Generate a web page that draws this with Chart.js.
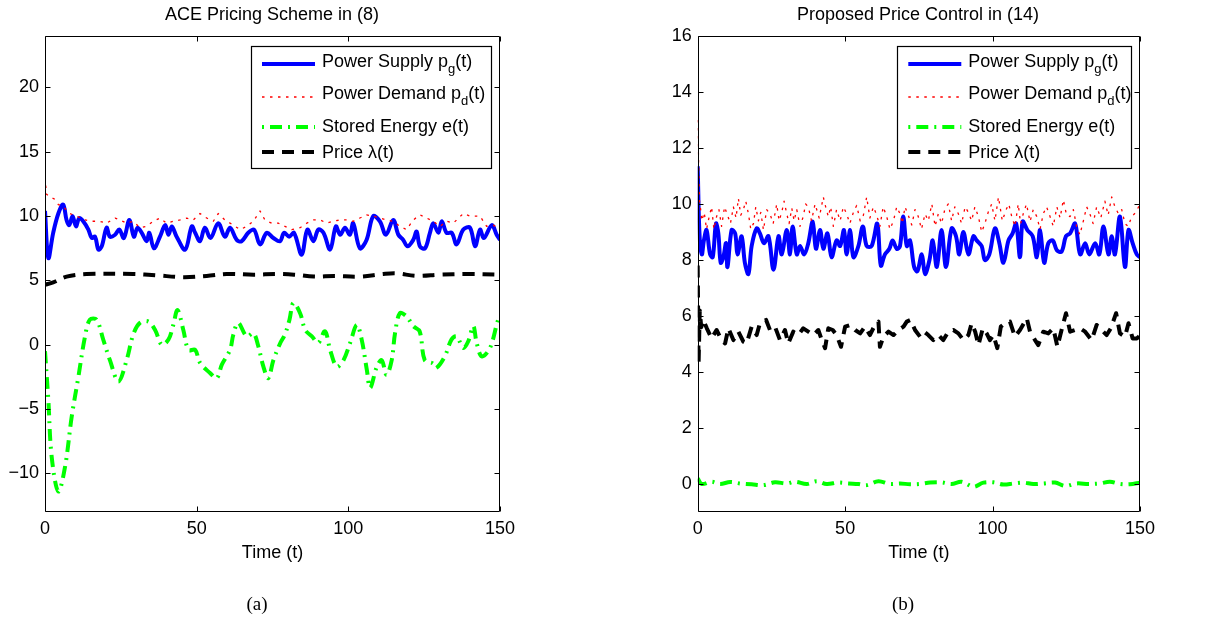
<!DOCTYPE html>
<html><head><meta charset="utf-8">
<script src="https://cdn.jsdelivr.net/npm/chart.js@4.4.1/dist/chart.umd.min.js"></script>
<style>
html,body{margin:0;padding:0;background:#fff;}
#wrap{position:relative;width:1216px;height:618px;overflow:hidden;background:#fff;}
canvas{position:absolute;top:0;}
</style></head><body>
<div id="wrap">
<canvas id="ca" width="608" height="618" style="left:0;width:608px;height:618px"></canvas>
<canvas id="cb" width="608" height="618" style="left:608px;width:608px;height:618px"></canvas>
</div>
<script>
// ---------- tick labels ----------
const xTicks = [0, 50, 100, 150];
const yTicksA = [-10, -5, 0, 5, 10, 15, 20];
const yTicksB = [0, 2, 4, 6, 8, 10, 12, 14, 16];

// ---------- panel (a): ACE Pricing Scheme ----------
const tA_supply = [0,1.1,2.7,4.4,6,7.1,8,9.1,10.2,11.3,12.6,14.3,15.4,16.5,17.6,18.7,20.3,21.4,23.1,24.5,26,27.8,29.3,30.5,31.9,33.5,34.4,35.9,37.9,39.6,40.7,41.8,43.4,46.2,48.4,49.5,51.1,52.7,54.6,57.1,59.3,61,63.2,64.8,67,68.9,70.9,73.1,75.3,77.5,78.8,80.5,82.1,84.6,86.5,88.5,90.1,91.8,94,95.9,97.3,98.9,100.5,101.6,103.8,106,108.2,110.4,112.4,114.8,116.5,118.1,119.5,121.4,122.5,123.6,125.3,126.9,128,129.7,130.8,132.4,134.1,135.7,137.9,140.1,141.8,143.4,144.7,147.3,148.9,150];
const supplyA = [10.4,6.74,8.7,10.2,10.9,9.7,9.3,10.0,9.2,9.85,9.6,8.95,8.3,8.4,7.4,7.65,9.1,8.4,8.55,8.95,8.3,9.7,8.4,9.1,8.7,8.05,8.7,7.5,8.4,9.3,8.55,9.2,8.4,7.4,9.2,8.7,8.05,9.1,8.3,9.45,8.4,9.1,8.15,8.05,8.7,8.95,7.8,8.7,8.3,8.05,8.7,8.4,8.7,7.0,8.95,8.05,8.95,8.7,7.4,9.2,8.55,9.1,8.55,9.45,7.5,8.15,10.0,9.6,8.55,9.7,8.55,8.15,7.65,8.15,8.8,7.65,7.5,8.7,9.45,8.7,9.6,8.7,8.7,7.8,8.95,9.1,7.65,8.95,8.3,9.3,8.55,8.15];

const tA_demand = [0,0.5,1.6,3.3,4.4,6,8.2,10.4,13.2,15.4,18,20.3,23.1,24.7,26.9,29.1,31.3,33.5,35.7,37.9,40.1,42.3,44.5,46.7,48.9,51.1,53.3,55.5,57.1,59.3,62.1,64.3,66.5,68.7,70.9,72.5,74.7,76.9,79.1,81.3,84.1,86.3,88.5,90.7,92.9,95,97.3,99.5,101.6,103.8,106,108.2,110.4,112.6,114.8,117,119.2,121.4,123.6,125.8,128,130.2,132.4,134.6,137.9,140.1,143.4,145.6,147.8,150];
const demandA = [13.0,11.7,11.5,11.3,10.9,10.75,10.2,10.0,9.7,9.6,9.6,9.45,9.85,9.7,9.45,9.6,9.1,9.2,9.6,9.85,9.45,9.6,9.7,9.85,9.7,10.2,9.85,9.6,10.2,9.7,9.3,8.95,9.2,9.6,10.4,9.7,9.45,9.45,9.2,8.95,9.1,9.45,9.7,9.7,9.45,9.6,9.7,9.7,9.6,9.85,10.1,10.0,9.85,9.7,9.6,9.2,8.95,9.7,10.1,9.85,9.6,9.2,9.6,9.45,10.2,10.0,10.0,9.2,9.3,8.95];

const tA_energy = [0,1.1,2.2,4.4,6.6,8.8,11,13.2,14.8,17,19.2,21.4,24.2,26.9,29.1,31.3,34.1,36.3,38.5,40.7,42.3,43.7,45.6,47.3,49.5,51.1,54.4,56.6,58.3,61,62.1,63.7,66.5,68.7,70.3,72,73.6,75.3,77.5,79.1,80.6,81.9,84.1,85.8,88,90.1,92.3,94,96.2,98.4,100.6,102.8,104.4,106.1,107.2,109.4,111,112.6,114.3,115.4,117,119.2,121.4,123.5,125.2,127.9,129,131.8,134,135.7,137.9,139.5,141.2,142.3,144,146.7,149.4,150];
const energyA = [-0.5,-4.3,-8.7,-11.4,-9.5,-5.6,-2.5,0.65,1.95,1.95,0.4,-1.2,-2.85,-1.2,0.8,1.7,1.8,1.15,0,0.4,1.55,2.7,1.15,-0.4,-0.4,-1.4,-2.2,-2.6,-1.55,-0.4,0.8,1.7,0.65,0.9,-0.1,-1.7,-2.6,-1.2,0.1,0.8,1.95,3.25,2.45,1.15,0.65,0.15,1.05,-0.4,-1.7,-1.2,0.15,1.55,0.4,-1.95,-3.35,-1.7,-1.2,-2.35,-1.2,0.9,2.45,2.2,1.45,1.05,-1.2,-1.45,-1.8,-0.9,0.4,0.65,-0.25,0.25,1.45,0.15,-0.9,-0.25,1.95,2.0];

const tA_price = [0,2.7,7.1,13.7,29,36.7,45.6,53.3,59.9,68.7,76.4,82.1,88.7,95.3,103.8,111.5,115.9,122.5,130.2,139,150];
const priceA = [4.67,4.85,5.3,5.5,5.5,5.4,5.25,5.35,5.5,5.45,5.5,5.45,5.3,5.35,5.3,5.5,5.55,5.35,5.45,5.5,5.45];

// ---------- panel (b): Proposed Price Control ----------
const tB_supply = [0,0.6,1.4,2.1,3,4.2,5.1,6.2,7,7.8,8.7,9.6,10.1,11.5,12.7,13.5,14.9,16,17.2,18.3,20,21.1,22.5,24,25.7,27.4,28.5,30.2,31.3,32.2,33.6,34.7,36.1,37.5,39,40.1,41.5,42.6,44,45.4,47.1,48.3,49.6,50.5,51.7,52.8,54.5,56,57.3,59,60.9,62.1,63.5,65,66.1,67.5,68.6,69.7,70.9,72,73.4,74.5,76,77.1,78.6,79.7,81.1,82.7,84.2,86.1,87.6,88.7,90.1,91.8,93.5,94.6,96.3,97.4,98.9,100.8,102.3,103.7,105.4,106.8,108,109.3,110.2,111.8,113.6,115,116.1,117.5,118.9,120.4,121.8,123.4,124.9,126.3,128,129.7,131.4,132.8,134.8,136.2,137.6,139.3,140.4,141.5,143.2,144.9,146.1,147.5,148.9,150];
const supplyB = [11.35,8.95,8.2,8.7,9.07,8.2,8.1,9.3,8.95,7.9,8.1,8.6,7.75,9.07,8.95,8.2,8.85,7.9,7.5,8.5,9.13,8.95,8.6,8.85,7.65,8.85,8.2,9.07,8.2,9.2,8.2,8.5,8.2,8.6,9.37,8.4,9.07,8.4,8.95,8.1,8.7,8.5,9.07,8.2,9.07,8.1,8.5,9.2,8.5,8.5,9.3,7.8,8.2,8.4,8.7,8.4,8.5,9.55,8.5,8.7,7.75,7.6,8.2,7.5,8.0,8.7,7.75,9.07,7.75,9.13,8.85,8.2,9.0,8.2,8.85,8.7,8.5,8.0,8.2,9.13,8.6,7.9,8.7,8.95,9.3,8.1,9.37,9.07,8.85,8.1,9.07,7.9,8.6,8.7,8.35,8.3,8.85,8.95,9.3,8.2,8.6,8.2,8.6,8.2,9.2,8.2,8.85,8.2,9.55,7.75,9.07,8.6,8.2,8.1];

const tB_demand = [0,0.3,0.6,1.0,1.4,2.2,3,3.8,4.7,5.5,6.4,7.2,8.1,9.1,10.1,11.1,12.1,13,13.8,14.6,15.5,16.3,17.2,18,18.9,19.7,20.6,21.4,22.3,23.4,24.5,25.6,26.8,27.6,28.5,29.3,30.2,31,31.9,32.7,33.6,34.7,35.8,36.6,37.5,38.6,39.8,41.2,42.6,43.4,44.3,45.1,46,47.1,48.3,49.4,50.5,51.6,52.8,53.9,55.1,56.2,57.3,58.4,59.6,60.7,61.8,62.9,64.1,65.2,66.4,67.5,68.6,69.4,70.3,71.4,72.6,73.7,74.8,75.9,77.1,78.2,79.4,80.5,81.6,82.7,83.9,85,86.1,87.2,88.4,89.5,90.7,91.8,92.9,94,95.2,96.3,97.4,98.5,99.7,100.8,102,103.3,104.6,105.5,106.5,107.6,108.7,109.5,110.4,111.5,112.7,113.8,115,116.1,117.2,118.3,119.5,120.6,121.8,122.9,124,125.1,126.3,127.4,128.5,129.6,130.8,131.9,133,134.1,135.3,136.7,138.1,139.2,140.4,141.5,142.7,143.8,144.9,146,147.2,148.6,150];
const demandB = [13.0,11.5,10.1,9.8,9.4,9.7,9.1,9.5,9.9,9.1,9.55,9.8,9.2,9.9,9.6,9.3,9.9,9.5,10.2,9.6,9.8,10.1,9.65,9.1,9.3,9.9,9.4,9.7,9.07,9.8,9.65,9.3,10.0,9.4,9.7,10.1,9.65,9.3,9.85,9.4,9.8,9.2,9.55,10.0,9.9,9.4,10.0,9.5,10.25,9.9,9.55,9.9,9.2,9.8,9.4,9.9,9.65,9.3,9.7,9.95,9.4,9.6,10.25,9.5,9.9,9.6,9.2,9.9,9.55,9.1,9.4,9.9,9.65,9.3,9.9,9.6,9.25,9.8,9.55,9.1,9.65,9.4,10.0,9.2,9.65,9.3,9.85,10.0,9.4,9.9,9.65,9.3,9.9,9.7,9.4,9.9,9.55,9.0,9.3,9.7,10.0,9.4,10.25,9.4,9.8,10.0,9.55,9.2,10.0,9.3,9.65,10.0,9.37,9.8,9.55,9.1,9.65,9.9,9.55,9.2,9.9,9.5,10.15,9.6,9.55,9.8,9.2,8.9,9.4,9.9,9.65,9.3,9.9,9.5,10.1,9.6,10.25,9.9,9.65,9.8,9.3,9.2,9.55,9.7,10.0];

const tB_energy = [0,1.4,4.7,7.6,11,14.4,18.3,22.3,26.2,30.2,33,37,40.4,43.7,47.7,51.1,54.5,57.3,61.3,65.2,68.6,72,75.4,78.8,82.7,86.1,89.5,93.5,96.9,100.3,103.7,107.1,110.4,113.8,117.2,121.2,124.6,128.5,132.5,136.4,139.8,143.2,146.6,150];
const energyB = [0.2,0,0.08,0,0.07,0.02,-0.01,-0.04,0.06,0.02,0.08,0,0.1,0,0.05,0.02,0,-0.04,0.1,0,0.02,-0.01,0,0.05,0.06,0,0.08,-0.1,0.05,0.06,-0.02,0.02,0.05,0,0.02,0.05,-0.07,0.02,0,0.02,0.08,0,-0.01,0.05];

const tB_price = [0,0.3,0.7,1.2,1.9,3.1,4.7,6.4,8.1,9.3,10.4,12.1,13.8,15.5,16.6,18.3,20,21.1,23.2,24.5,26.2,27.9,29.6,30.7,32.4,34.1,35.8,37.5,39.2,40.9,42.1,43.2,44.3,45.8,47.1,48.6,50,51.7,53.4,55.1,56.7,58.4,60.1,61.3,61.8,63,64.7,66.4,68.1,69.8,70.9,72.2,73.7,75.4,76.8,78.2,79.9,81.6,83.3,85,86.7,88.4,90.1,91.8,92.9,94.1,95.2,96.7,98,99.1,100.3,101.6,102.8,104.2,105.9,107.6,109.3,111.6,112.7,114.4,115.5,117.2,118.9,120.6,122,123.4,124.9,126.3,128,129.7,131.4,133.6,135.3,137,138.7,140.1,141.9,143.2,144.9,146.1,147.5,148.9,150];
const priceB = [7.8,4.3,6.2,5.6,5.86,5.56,5.2,5.5,5.14,5.02,5.56,5.14,5.44,5.08,5.02,5.62,5.32,5.74,5.86,5.5,5.62,5.14,5.5,5.02,5.44,5.32,5.56,5.44,5.32,5.5,5.14,4.85,5.56,5.5,5.32,4.9,5.62,5.68,5.5,5.38,5.62,5.32,5.68,5.8,4.9,5.26,5.44,5.32,5.5,5.62,5.8,5.86,5.5,5.26,5.44,5.32,5.14,5.32,5.14,5.44,5.5,5.38,5.14,5.32,5.74,5.44,4.96,5.56,5.38,5.14,5.32,4.85,5.62,5.74,5.8,5.26,5.5,5.92,5.44,5.14,4.96,5.44,5.38,5.56,4.9,5.5,6.1,5.44,5.5,5.56,5.44,5.14,5.68,5.5,5.32,5.56,6.1,5.38,5.26,5.74,5.2,5.2,5.3];

// ---------- texts ----------
const titleA = 'ACE Pricing Scheme in (8)';
const titleB = 'Proposed Price Control in (14)';
const xLabel = 'Time (t)';
const legendParts = [
  ['Power Supply p', 'g', '(t)'],
  ['Power Demand p', 'd', '(t)'],
  ['Stored Energy e(t)', '', ''],
  ['Price \u03bb(t)', '', '']
];

// ---------- helpers ----------
const FONT = '"Liberation Sans", Arial, Helvetica, sans-serif';
function pts(ts, vs){ return ts.map((t,i)=>({x:t, y:vs[i]})); }
function fmt(v){ return v < 0 ? '\u2212' + Math.abs(v) : String(v); }

const STY = {
  supply: {color:'#0000ff', width:4, dash:[], off:0},
  demand: {color:'#ff0000', width:1.3, dash:[2.5,5.5], off:0},
  energy: {color:'#00ff00', width:4, dash:[12,6,2,6], off:18},
  price:  {color:'#000000', width:4, dash:[12,8], off:0}
};
const KEYS = ['supply','demand','energy','price'];

function ds(key, data, smooth){
  const s = STY[key];
  return {label:key, data, borderColor:s.color, backgroundColor:s.color, borderWidth:s.width,
    borderDash:s.dash, pointRadius:0, fill:false, tension: smooth ? 0.35 : 0,
    borderCapStyle:'butt', borderJoinStyle:'round'};
}

const framePlugin = {
  id:'frame',
  afterDatasetsDraw(chart, args, o){
    const ctx = chart.ctx, a = chart.chartArea, xs = chart.scales.x, ys = chart.scales.y;
    ctx.save();
    ctx.setLineDash([]);
    ctx.strokeStyle = '#000'; ctx.lineWidth = 1;
    const L = Math.round(a.left)+0.5, R = Math.round(a.right)-0.5, T = Math.round(a.top)+0.5, B = Math.round(a.bottom)-0.5;
    ctx.beginPath(); ctx.rect(L, T, R-L, B-T); ctx.stroke();
    const tl = 5;
    ctx.beginPath();
    xs.ticks.forEach(tk=>{ const p = Math.round(xs.getPixelForValue(tk.value))+0.5;
      ctx.moveTo(p,B); ctx.lineTo(p,B-tl); ctx.moveTo(p,T); ctx.lineTo(p,T+tl); });
    ys.ticks.forEach(tk=>{ const p = Math.round(ys.getPixelForValue(tk.value))+0.5;
      ctx.moveTo(L,p); ctx.lineTo(L+tl,p); ctx.moveTo(R,p); ctx.lineTo(R-tl,p); });
    ctx.stroke();

    ctx.fillStyle = '#000'; ctx.textAlign = 'center'; ctx.textBaseline = 'middle';
    ctx.font = '18px ' + FONT;
    ctx.fillText(o.title, o.titleX, 15);
    ctx.fillText(o.xlabel, (a.left+a.right)/2, 553);
    ctx.font = '19px "Liberation Serif", "Times New Roman", serif';
    ctx.fillText(o.caption, o.captionX, 605);

    // legend
    const bx = o.lx, by = 46, bw = o.lw, bh = 122;
    ctx.fillStyle = '#fff'; ctx.fillRect(bx, by, bw, bh);
    ctx.strokeStyle = '#000'; ctx.lineWidth = 1.2;
    ctx.strokeRect(Math.round(bx)+0.5, by+0.5, Math.round(bw), bh);
    const lineY = [64, 97, 127, 152];
    const textY = [62, 94, 127, 153];
    KEYS.forEach((k, i)=>{
      const s = STY[k];
      ctx.save();
      ctx.strokeStyle = s.color; ctx.lineWidth = s.width; ctx.setLineDash(s.dash); ctx.lineDashOffset = s.off; ctx.lineCap = 'butt';
      ctx.beginPath(); ctx.moveTo(bx+11, lineY[i]); ctx.lineTo(bx+64, lineY[i]); ctx.stroke();
      ctx.restore();
      const p = legendParts[i];
      let x = bx + 71;
      ctx.fillStyle = '#000'; ctx.textAlign = 'left'; ctx.textBaseline = 'middle';
      ctx.font = '18px ' + FONT;
      ctx.fillText(p[0], x, textY[i]); x += ctx.measureText(p[0]).width;
      if (p[1]) {
        ctx.font = '13px ' + FONT;
        ctx.fillText(p[1], x, textY[i]+7); x += ctx.measureText(p[1]).width;
        ctx.font = '18px ' + FONT;
        ctx.fillText(p[2], x, textY[i]);
      }
    });
    ctx.restore();
  }
};

function makeChart(id, sets, yMin, yMax, yTicks, yWidth, padRight, extra){
  return new Chart(document.getElementById(id), {
    type:'line',
    data:{ datasets: sets },
    options:{
      responsive:false, animation:false, devicePixelRatio:1,
      layout:{ padding:{left:0, right:padRight, top:36, bottom:0} },
      plugins:{ legend:{display:false}, title:{display:false}, tooltip:{enabled:false}, frame: extra },
      scales:{
        x:{ type:'linear', min:0, max:150,
            afterBuildTicks: s=>{ s.ticks = xTicks.map(v=>({value:v})); },
            afterFit: s=>{ s.height = 106; },
            grid:{display:false, drawTicks:false}, border:{display:false},
            ticks:{ padding:6, autoSkip:false, maxRotation:0, color:'#000', font:{family:FONT, size:18}, callback: fmt } },
        y:{ type:'linear', min:yMin, max:yMax,
            afterBuildTicks: s=>{ s.ticks = yTicks.map(v=>({value:v})); },
            afterFit: s=>{ s.width = yWidth; },
            grid:{display:false, drawTicks:false}, border:{display:false},
            ticks:{ padding:6, color:'#000', font:{family:FONT, size:18}, callback: fmt } }
      }
    },
    plugins:[framePlugin]
  });
}

makeChart('ca', [
  ds('price', pts(tA_price, priceA), true),
  ds('energy', pts(tA_energy, energyA), true),
  ds('demand', pts(tA_demand, demandA), false),
  ds('supply', pts(tA_supply, supplyA), true)
], -13, 24, yTicksA, 45, 108,
  {title:titleA, titleX:272, xlabel:xLabel, caption:'(a)', captionX:257, lx:251, lw:240});

makeChart('cb', [
  ds('price', pts(tB_price, priceB), false),
  ds('energy', pts(tB_energy, energyB), true),
  ds('demand', pts(tB_demand, demandB), false),
  ds('supply', pts(tB_supply, supplyB), true)
], -1, 16, yTicksB, 89.7, 76,
  {title:titleB, titleX:310, xlabel:xLabel, caption:'(b)', captionX:295, lx:289.3, lw:234});
</script>
</body></html>
